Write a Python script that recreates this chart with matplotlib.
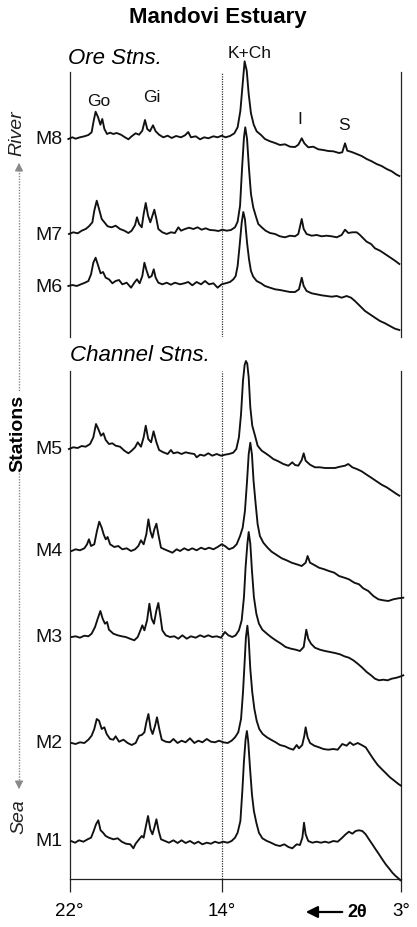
import numpy as np
import matplotlib
matplotlib.use("Agg")
import matplotlib.pyplot as plt
from matplotlib.lines import Line2D

plt.rcParams['font.family'] = ['Liberation Sans', 'DejaVu Sans']

# XRD traces: (2-theta in degrees, relative intensity)
m8 = np.array([(22.06,0),(21.85,1.7),(21.68,0.3),(21.45,1.7),(21.22,2.7),(21.01,4),(20.84,6.7),(20.73,18.3),
    (20.63,27.3),(20.50,21.7),(20.38,14.3),(20.28,20),(20.17,10),(20.03,5),(19.87,6.3),(19.70,5),(19.53,6),
    (19.30,4.3),(19.09,1.7),(18.91,-0.3),(18.74,2.7),(18.53,5.7),(18.35,4.3),(18.18,8.3),(18.04,19),(17.92,10),
    (17.78,7.7),(17.62,13.7),(17.48,7.7),(17.30,4.3),(17.08,1.7),(16.85,3.3),(16.64,1),(16.41,3),(16.15,1.7),
    (15.94,3.7),(15.77,7),(15.63,1.7),(15.38,2.7),(15.15,-0.3),(14.93,1.7),(14.72,0.7),(14.45,2.7),(14.23,1.7),
    (14.02,3.3),(13.78,1.7),(13.51,3),(13.24,5.7),(13.04,11.7),(12.87,28.3),(12.73,55),(12.61,77.7),(12.48,68.3),
    (12.36,45),(12.22,25.7),(12.05,14.3),(11.87,7.7),(11.60,4),(11.36,0),(11.05,-2.3),(10.74,-4),(10.44,-6),
    (10.13,-5.3),(9.82,-7.7),(9.51,-8),(9.31,-5.7),(9.10,0.7),(8.94,-4.3),(8.70,-8.3),(8.39,-7.7),(8.08,-10.3),
    (7.77,-11),(7.47,-12),(7.16,-12.3),(6.81,-14),(6.61,-13.3),(6.44,-4.3),(6.30,-11.7),(6.03,-13),(5.72,-15),
    (5.42,-17),(5.11,-20),(4.80,-22.3),(4.50,-25),(4.19,-27),(3.88,-30),(3.57,-32.3),(3.27,-35.7),(3.10,-37)])

m7 = np.array([(22.03,0),(21.80,1.7),(21.57,0.7),(21.36,3.3),(21.15,5),(20.98,7.7),(20.80,11.7),(20.70,23.3),
    (20.57,33.3),(20.45,25),(20.31,15),(20.17,11.7),(20.00,7.7),(19.79,6.7),(19.58,8.3),(19.35,5),(19.12,3.3),
    (18.91,1),(18.74,3.3),(18.56,9),(18.46,16.7),(18.35,10),(18.21,6.7),(18.11,20),(18.00,31),(17.88,18.3),
    (17.76,11.7),(17.65,18.3),(17.55,24.3),(17.44,15),(17.34,5),(17.13,1.7),(16.90,0),(16.68,1.7),(16.47,1),
    (16.29,6.7),(16.15,3.3),(15.94,5),(15.73,6.3),(15.50,5),(15.28,6.7),(15.07,4.3),(14.86,5.7),(14.63,4),
    (14.40,3.7),(14.19,3),(13.98,4.3),(13.71,3.3),(13.45,4),(13.20,6.7),(13.04,12.3),(12.89,28.3),(12.77,65),
    (12.65,96.7),(12.57,106.7),(12.46,95),(12.34,65),(12.22,40),(12.08,26.7),(11.93,18.3),(11.77,10),(11.56,6.7),
    (11.32,3.3),(11.05,1),(10.74,0),(10.44,-2.3),(10.13,-3.3),(9.82,-1.7),(9.51,-2.3),(9.31,0),(9.10,15),(8.98,5),
    (8.80,0),(8.49,-1.7),(8.18,-1),(7.88,-2.3),(7.57,-1.7),(7.26,-2.3),(6.95,-3.3),(6.65,-1),(6.44,4.3),(6.24,1),
    (5.99,1.7),(5.72,1.7),(5.52,-1),(5.32,-4.3),(5.11,-7.7),(4.84,-10),(4.60,-14.3),(4.29,-16.7),(3.98,-20),
    (3.68,-23.3),(3.37,-26.7),(3.10,-30)])

m6 = np.array([(22.06,0),(21.85,1),(21.62,0),(21.40,1.7),(21.19,3.3),(21.01,5),(20.87,11.7),(20.75,23.3),
    (20.63,28.3),(20.49,20),(20.37,12.7),(20.24,14),(20.10,8.3),(19.93,6.7),(19.75,2.7),(19.58,5),(19.40,6),
    (19.23,1.7),(19.00,3.3),(18.77,-1.7),(18.60,3.3),(18.46,6.7),(18.32,2.7),(18.18,10),(18.07,23.3),(17.95,15),
    (17.83,8.3),(17.69,10),(17.58,16.7),(17.48,8.3),(17.34,3.3),(17.13,1.7),(16.90,3.3),(16.68,1.3),(16.47,3.3),
    (16.20,1.7),(15.98,2.7),(15.77,4),(15.56,0.7),(15.33,4),(15.10,1.7),(14.89,5),(14.68,1.7),(14.45,2.7),
    (14.23,-1.7),(14.02,1.7),(13.78,2.7),(13.51,4),(13.30,6.7),(13.16,10),(13.04,20),(12.92,40),(12.79,63.3),
    (12.69,74),(12.59,66.7),(12.46,43.3),(12.34,26.7),(12.22,15),(12.08,9.3),(11.87,5),(11.60,2.7),(11.36,0),
    (11.05,-1.7),(10.74,-3.3),(10.44,-4),(10.13,-5),(9.82,-6),(9.51,-6),(9.27,-3.3),(9.10,8.3),(8.98,0),(8.80,-5),
    (8.49,-7.3),(8.18,-8.3),(7.88,-9.3),(7.57,-10),(7.26,-10.7),(6.95,-10),(6.65,-11.7),(6.34,-10),(6.07,-11.7),
    (5.83,-15),(5.52,-20),(5.21,-25),(4.91,-28.3),(4.60,-31.7),(4.29,-35),(3.98,-37.3),(3.68,-40),(3.37,-42.7),
    (3.10,-44)])

m5 = np.array([(22.03,0),(21.80,1.7),(21.57,1),(21.36,3),(21.15,2.3),(20.92,5),(20.75,11.7),(20.61,25),
    (20.49,20),(20.35,13.3),(20.22,15.7),(20.10,9),(19.93,5),(19.75,5.7),(19.58,3.3),(19.35,2.3),(19.12,-1.7),
    (18.91,-4.3),(18.74,-1.7),(18.56,1.7),(18.42,6.7),(18.25,2.3),(18.11,11.7),(18.00,23.3),(17.87,10),
    (17.72,6.7),(17.59,17.7),(17.44,6.7),(17.30,-1),(17.08,-3.3),(16.85,-5),(16.68,-1),(16.55,-4.3),(16.33,-3.3),
    (16.12,-5),(15.91,-3.3),(15.68,-4.3),(15.45,-5),(15.33,-8.3),(15.15,-5.7),(14.93,-6.7),(14.72,-4.3),
    (14.51,-6.7),(14.28,-5),(14.05,-6.7),(13.82,-5.7),(13.57,-5),(13.31,-3.7),(13.12,0),(12.96,11.7),(12.83,35),
    (12.71,68.3),(12.61,84),(12.53,88),(12.45,85.5),(12.36,71.7),(12.26,41.7),(12.14,23.3),(11.97,13.3),(11.81,3.3),
    (11.56,-1.7),(11.32,-4.3),(11.11,-6.7),(10.85,-10),(10.54,-12.3),(10.23,-15),(9.92,-16.7),(9.68,-13.3),
    (9.51,-16),(9.31,-16.7),(9.10,-11),(8.98,-4.3),(8.86,-11.7),(8.59,-15.7),(8.29,-18.3),(7.98,-18.3),
    (7.67,-19),(7.36,-19),(7.06,-19),(6.75,-17.7),(6.44,-16.7),(6.24,-15),(5.99,-18.3),(5.72,-20),(5.42,-22.3),
    (5.11,-25.7),(4.80,-29),(4.50,-32.3),(4.19,-35.7),(3.88,-38.3),(3.57,-41.7),(3.27,-45),(3.10,-46.7)])

m4 = np.array([(21.89,0),(21.68,1.7),(21.45,0.7),(21.22,2.7),(21.08,6.7),(20.98,11.7),(20.87,5),(20.70,6.7),
    (20.56,20),(20.44,29.3),(20.31,23.3),(20.21,16.7),(20.10,11.7),(20.00,14),(19.87,6.7),(19.65,4),(19.44,5),
    (19.23,1.7),(19.00,2.7),(18.77,0),(18.56,1.7),(18.39,5),(18.25,10.7),(18.11,6.7),(17.97,16.7),(17.86,31.7),
    (17.76,20),(17.65,13.3),(17.55,21.7),(17.44,27.3),(17.34,16.7),(17.20,3.3),(17.02,1.7),(16.81,0),(16.60,-1.7),
    (16.38,1.7),(16.20,0),(15.98,2.7),(15.77,0.7),(15.56,2.7),(15.33,0.7),(15.10,3.3),(14.89,1.7),(14.68,3.3),
    (14.45,1.7),(14.23,4),(14.02,6.7),(13.82,5),(13.57,1.7),(13.31,3.3),(13.10,6.7),(12.89,15),(12.73,23.3),
    (12.59,40),(12.46,70),(12.36,96.7),(12.26,108.3),(12.16,96.7),(12.06,70),(11.93,46.7),(11.81,26.7),
    (11.67,15),(11.46,8.3),(11.20,3.3),(10.95,-0.7),(10.64,-4),(10.33,-7.3),(10.03,-9.3),(9.72,-11.7),
    (9.41,-13.3),(9.10,-15),(8.86,-11.7),(8.74,-5),(8.59,-11.7),(8.33,-14),(8.04,-16.7),(7.71,-18.3),(7.43,-20),
    (7.10,-21.7),(6.81,-25),(6.48,-26.7),(6.20,-28.3),(5.87,-31.7),(5.58,-33.3),(5.32,-37.3),(5.01,-40),
    (4.70,-45),(4.39,-48.3),(4.09,-49.3),(3.78,-50),(3.47,-48.3),(3.16,-47.3),(2.86,-46.7)])

m3 = np.array([(21.89,0),(21.68,0.7),(21.45,-0.7),(21.22,1.3),(21.01,0.7),(20.84,3.3),(20.66,10),(20.52,18.3),
    (20.38,26),(20.26,18.3),(20.14,13.3),(20.03,15),(19.93,7.3),(19.70,3.3),(19.47,1.7),(19.26,0.7),(19.05,0),
    (18.83,-1.7),(18.60,-3.3),(18.42,0),(18.28,6.7),(18.18,11.7),(18.07,6.7),(17.93,16.7),(17.81,33.3),
    (17.69,18.3),(17.57,13.3),(17.44,26.7),(17.34,34),(17.24,21.7),(17.13,6.7),(16.95,1.7),(16.73,0),(16.50,0.7),
    (16.29,-1.7),(16.08,1.7),(15.85,-1.7),(15.63,0.7),(15.38,-0.7),(15.15,1.7),(14.93,0),(14.72,1.7),(14.51,0),
    (14.28,0.7),(14.05,-0.7),(13.82,5),(13.61,1.7),(13.37,0),(13.16,1.7),(12.96,6.7),(12.79,16.7),(12.65,40),
    (12.55,70),(12.44,93.3),(12.36,105),(12.26,93.3),(12.16,66.7),(12.04,40),(11.89,23.3),(11.73,13.3),
    (11.52,7.3),(11.24,3.3),(10.99,0),(10.70,-3.3),(10.37,-6.7),(10.09,-10),(9.76,-11.7),(9.47,-12.7),(9.21,-14),
    (8.98,-10),(8.82,7.3),(8.70,-1.7),(8.53,-6.7),(8.29,-10.7),(7.98,-12.7),(7.67,-14),(7.36,-15),(7.06,-16),
    (6.75,-17.3),(6.48,-19.3),(6.20,-20.7),(5.93,-23.3),(5.66,-26.7),(5.38,-30.7),(5.11,-35),(4.84,-38.3),
    (4.60,-41.7),(4.35,-43.3),(4.09,-42.7),(3.82,-43.3),(3.57,-41.7),(3.27,-40.7),(3.00,-39.3),(2.86,-38.3)])

m2 = np.array([(21.89,0),(21.68,-1),(21.45,0.7),(21.22,0),(21.01,3.3),(20.84,7.3),(20.70,14),(20.57,24),
    (20.45,22.3),(20.31,14),(20.17,15.7),(20.05,9),(19.87,4),(19.70,3.3),(19.58,6.7),(19.40,1.3),(19.17,3.3),
    (18.95,0),(18.74,-2),(18.53,0),(18.35,7.3),(18.21,8),(18.07,10.7),(17.97,20.7),(17.86,29),(17.74,14),
    (17.64,9),(17.51,17.3),(17.41,25.7),(17.29,14),(17.16,3.3),(16.95,1.3),(16.73,0.7),(16.55,4),(16.33,0),
    (16.12,2.3),(15.91,0.7),(15.68,4.7),(15.45,0),(15.24,2.3),(15.03,0.7),(14.80,4),(14.58,1.3),(14.37,0.7),
    (14.16,2.3),(13.92,0.7),(13.65,0),(13.41,2.3),(13.20,5.7),(13.00,10.7),(12.83,24),(12.71,50.7),(12.61,80.7),
    (12.53,105.7),(12.44,117.3),(12.36,104),(12.26,74),(12.14,50.7),(12.01,34),(11.87,22.3),(11.71,14),(11.50,9),
    (11.24,5.7),(10.99,3.3),(10.70,0.7),(10.44,-2),(10.13,-3.3),(9.88,-5.3),(9.62,-6.7),(9.41,-2),(9.27,-5.3),
    (9.07,-2),(8.94,7.3),(8.86,15.7),(8.74,5.7),(8.59,0),(8.33,-2.7),(8.04,-4.3),(7.77,-6),(7.47,-6.7),(7.16,-6),
    (6.89,-6.7),(6.61,-1),(6.34,-2.7),(6.14,0.7),(5.93,-2),(5.66,0),(5.42,-2),(5.17,-4.3),(4.97,-9.3),(4.70,-16),
    (4.43,-22),(4.19,-26),(3.94,-30),(3.68,-34.3),(3.41,-37.7),(3.16,-41),(3.00,-42.7)])

m1 = np.array([(21.92,0),(21.71,-1.7),(21.50,0.7),(21.27,-0.7),(21.05,1.7),(20.87,3.3),(20.73,10),(20.61,16.7),
    (20.49,20.7),(20.37,10.7),(20.24,8.3),(20.10,5),(19.93,3.3),(19.70,1.7),(19.47,2.7),(19.26,-0.7),(19.04,-2.7),
    (18.81,-3.3),(18.65,-7.3),(18.53,-2.7),(18.35,1.7),(18.21,5),(18.11,3.3),(17.99,15),(17.88,25),(17.76,11.7),
    (17.65,6.7),(17.55,13.3),(17.44,21.7),(17.32,10),(17.20,1.7),(16.99,0),(16.78,-1.7),(16.55,0.7),(16.33,-2),
    (16.12,0.7),(15.91,-2),(15.68,0),(15.45,-2.7),(15.24,-0.7),(15.03,-3.3),(14.80,-1.7),(14.58,-2.7),
    (14.37,-0.7),(14.16,-2),(13.92,-0.7),(13.65,-1.7),(13.41,0),(13.20,3.3),(13.04,8.3),(12.87,20),(12.75,50),
    (12.65,80),(12.55,101.7),(12.47,110),(12.39,100),(12.28,73.3),(12.16,46.7),(12.04,30),(11.89,18.3),
    (11.73,8.3),(11.52,2.7),(11.24,0),(10.99,-1.7),(10.70,-4),(10.44,-5),(10.17,-3.3),(9.92,-6),(9.68,-7.3),
    (9.41,-3.3),(9.21,-4),(9.06,3.3),(8.96,18.3),(8.86,6.7),(8.70,0),(8.45,-1.7),(8.18,-0.7),(7.92,-1.7),
    (7.67,-0.7),(7.43,-1.7),(7.16,0),(6.89,-0.7),(6.65,2.7),(6.40,6.7),(6.20,9.3),(5.99,7.3),(5.79,10),
    (5.58,10.7),(5.38,10),(5.17,6.7),(4.97,1.7),(4.76,-3.3),(4.56,-8.3),(4.35,-13.3),(4.15,-18.3),(3.94,-23.3),
    (3.74,-27.3),(3.53,-31.7),(3.33,-35),(3.16,-37.3),(3.04,-39.3)])

ore_names = ['M8', 'M7', 'M6']
ore_traces = [m8, m7, m6]
chan_names = ['M5', 'M4', 'M3', 'M2', 'M1']
chan_traces = [m5, m4, m3, m2, m1]

tick_vals = [22, 14, 3]
tick_text = ['22°', '14°', '3°']
peak_names = ['Go', 'Gi', 'K+Ch', 'I', 'S']
peak_tt = [20.48, 17.70, 12.31, 9.21, 6.50]

# stacking offsets
ore_off = [198, 103, 51]
chan_off = [430, 328, 242, 136, 38]
peak_lab_y = [237, 240, 285, 219, 212]


# the original axis is stretched differently on each side of 14 deg
def fwd(t):
    t = np.asarray(t, dtype=float)
    return np.where(t > 14, 14 + (t - 14) * 1.1714, t)


def inv(u):
    u = np.asarray(u, dtype=float)
    return np.where(u > 14, 14 + (u - 14) / 1.1714, u)


W, H = 417, 928
fig = plt.figure(figsize=(W / 100, H / 100), dpi=100)


def fx(px):
    return px / W


def fy(py):
    return 1 - py / H


left, width = fx(69.5), (401 - 69.5) / W
ax_top = fig.add_axes([left, fy(338), width, (338 - 73) / H])
ax_bot = fig.add_axes([left, fy(880), width, (880 - 372) / H])

spine_col = '#222222'
for ax, ylim in ((ax_top, 265), (ax_bot, 508)):
    ax.set_xscale('function', functions=(fwd, inv))
    ax.set_xlim(22, 3)
    ax.set_ylim(0, ylim)
    ax.set_facecolor('none')
    ax.spines['top'].set_visible(False)
    for s in ('left', 'right', 'bottom'):
        ax.spines[s].set_color(spine_col)
        ax.spines[s].set_linewidth(0.9)
    ax.set_yticks([])
    ax.axvline(14, color='#333333', lw=0.9, ls=(0, (1, 1)), zorder=1)

ax_top.spines['bottom'].set_visible(False)
ax_top.set_xticks([])

ax_bot.set_xticks(tick_vals)
ax_bot.set_xticklabels(tick_text, fontsize=13.5)
ax_bot.tick_params(axis='x', length=9.5, width=0.9, color=spine_col, pad=7)
ax_bot.xaxis.get_major_ticks()[1].tick1line.set_linestyle((0, (1, 1)))

trace_kw = dict(color='#111111', lw=1.35, clip_on=False, zorder=3)
for ax, names, traces, offs in ((ax_top, ore_names, ore_traces, ore_off),
                                (ax_bot, chan_names, chan_traces, chan_off)):
    for name, tr, off in zip(names, traces, offs):
        ax.plot(tr[:, 0], tr[:, 1] + off, **trace_kw)
        ax.text(-0.022, off, name, transform=ax.get_yaxis_transform(),
                ha='right', va='center', fontsize=14, color='#111111')

for name, tt, yy in zip(peak_names, peak_tt, peak_lab_y):
    ax_top.text(tt, yy, name, ha='center', va='center', fontsize=12.5, color='#111111')

fig.text(fx(218), fy(18), 'Mandovi Estuary', ha='center', va='center',
         fontsize=16, fontweight='bold')
fig.text(fx(68), fy(59), 'Ore Stns.', ha='left', va='center', fontsize=16, style='italic')
fig.text(fx(70), fy(356), 'Channel Stns.', ha='left', va='center', fontsize=16, style='italic')

# river -> sea direction on the left
fig.text(fx(17), fy(133), 'River', rotation=90, ha='center', va='center',
         fontsize=14, style='italic', color='#222222')
fig.text(fx(18), fy(433), 'Stations', rotation=90, ha='center', va='center',
         fontsize=14, fontweight='bold')
fig.text(fx(19), fy(817), 'Sea', rotation=90, ha='center', va='center',
         fontsize=14, style='italic', color='#222222')
gray = '#8a8a8a'
for y0, y1 in ((168, 392), (474, 786)):
    fig.add_artist(Line2D([fx(19), fx(19)], [fy(y0), fy(y1)], color=gray,
                          lw=1.0, ls=(0, (1, 1))))
fig.add_artist(matplotlib.patches.FancyArrowPatch(
    (fx(19), fy(170)), (fx(19), fy(161)), transform=fig.transFigure,
    arrowstyle='-|>,head_length=5,head_width=2.5', color=gray, lw=0.8))
fig.add_artist(matplotlib.patches.FancyArrowPatch(
    (fx(19), fy(784)), (fx(19), fy(793)), transform=fig.transFigure,
    arrowstyle='-|>,head_length=5,head_width=2.5', color=gray, lw=0.8))

# 2-theta direction arrow
fig.add_artist(matplotlib.patches.FancyArrowPatch(
    (fx(345), fy(913)), (fx(303), fy(913)), transform=fig.transFigure,
    arrowstyle='-|>,head_length=7,head_width=3.5', color='black', lw=1.6))
fig.text(fx(347), fy(913), '2θ', ha='left', va='center', fontsize=13, fontweight='bold')

fig.savefig('out.png', dpi=100)
